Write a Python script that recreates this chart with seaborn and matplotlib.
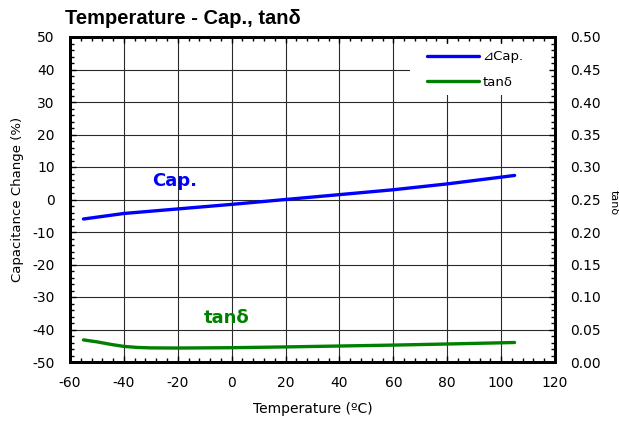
import matplotlib
matplotlib.use("Agg")
import matplotlib.pyplot as plt
import seaborn as sns
import pandas as pd
from matplotlib.ticker import AutoMinorLocator
from matplotlib.patches import Rectangle

temp_cap = [-55, -40, -20, 0, 20, 40, 60, 80, 105]
cap_change = [-6.0, -4.3, -2.9, -1.5, 0.0, 1.5, 3.0, 4.8, 7.4]

temp_tan = [-55, -50, -45, -40, -35, -30, -20, 0, 20, 40, 60, 80, 105]
tan_delta = [0.034, 0.031, 0.0272, 0.0240, 0.0224, 0.0217, 0.0215, 0.022, 0.0232, 0.0246, 0.026, 0.0277, 0.030]

x_ticks = [-60, -40, -20, 0, 20, 40, 60, 80, 100, 120]
y_ticks = [-50, -40, -30, -20, -10, 0, 10, 20, 30, 40, 50]
y2_ticks = [0.00, 0.05, 0.10, 0.15, 0.20, 0.25, 0.30, 0.35, 0.40, 0.45, 0.50]

sns.set_theme(style="white")
plt.rcParams['font.family'] = ['DejaVu Sans']
plt.rcParams['axes.unicode_minus'] = False
plt.rcParams['text.color'] = 'black'
plt.rcParams['axes.labelcolor'] = 'black'

df_cap = pd.DataFrame({"T": temp_cap, "v": cap_change})
df_tan = pd.DataFrame({"T": temp_tan, "v": tan_delta})

fig = plt.figure(figsize=(6.19, 4.21), dpi=100)
ax = fig.add_axes([70/619, 1-362/421, 485/619, 325/421])
ax2 = ax.twinx()

sns.lineplot(data=df_cap, x="T", y="v", ax=ax, color="#0000ff", lw=2.4, label="⊿Cap.", legend=False)
sns.lineplot(data=df_tan, x="T", y="v", ax=ax2, color="#008000", lw=2.4, label="tanδ", legend=False)

ax.set_xlim(-60, 120)
ax.set_ylim(-50, 50)
ax2.set_ylim(0, 0.5)
ax.set_xticks(x_ticks)
ax.set_yticks(y_ticks)
ax2.set_yticks(y2_ticks)
ax2.set_yticklabels([f"{v:.2f}" for v in y2_ticks])
ax.xaxis.set_minor_locator(AutoMinorLocator(5))
ax.yaxis.set_minor_locator(AutoMinorLocator(5))
ax2.yaxis.set_minor_locator(AutoMinorLocator(5))

ax.grid(True, which="major", color="#2a2a2a", lw=0.8)
ax.set_axisbelow(True)
for a in (ax, ax2):
    for s in a.spines.values():
        s.set_color("black")
        s.set_linewidth(2)
ax.tick_params(axis="both", which="both", direction="in", labelsize=10, colors="black", top=True)
ax.tick_params(which="major", length=4, width=1)
ax.tick_params(which="minor", length=3, width=1)
ax.tick_params(axis="x", which="both", bottom=True, top=True, pad=10)
ax.tick_params(axis="y", which="both", left=True, pad=11)
ax2.tick_params(axis="y", which="both", direction="in", right=True, labelsize=10, colors="black", pad=11)
ax2.tick_params(which="major", length=4, width=1)
ax2.tick_params(which="minor", length=3, width=1)

ax.set_xlabel("Temperature (ºC)", fontsize=10, labelpad=9)
ax.set_ylabel("Capacitance Change (%)", fontsize=9.5, labelpad=6)
ax2.set_ylabel("")
fig.text(1.0, 0.52, "tanδ", rotation=270, fontsize=8, ha="right", va="center")

fig.text(65/619, 1-18/421, "Temperature - Cap., tanδ", fontsize=14.5, fontweight="bold",
         family=["Liberation Sans", "DejaVu Sans"], ha="left", va="center")

ax.text(-21, 5.7, "Cap.", color="#0000ff", fontsize=13, fontweight="bold", ha="center", va="center")
ax.text(-2, -36.5, "tanδ", color="#008000", fontsize=13, fontweight="bold", ha="center", va="center")

# white legend background box
ax.add_patch(Rectangle((66, 32.2), 54, 15.6, facecolor="white", edgecolor="none", zorder=1))

h1, l1 = ax.get_legend_handles_labels()
h2, l2 = ax2.get_legend_handles_labels()
leg = ax2.legend(h1 + h2, l1 + l2, loc="upper left", bbox_to_anchor=(348/485, 1 - 4/325), frameon=False,
                 fontsize=9.5, handlelength=3.9, handletextpad=0.3, borderpad=0.2, labelspacing=0.95)

fig.savefig("out.png", dpi=100)
